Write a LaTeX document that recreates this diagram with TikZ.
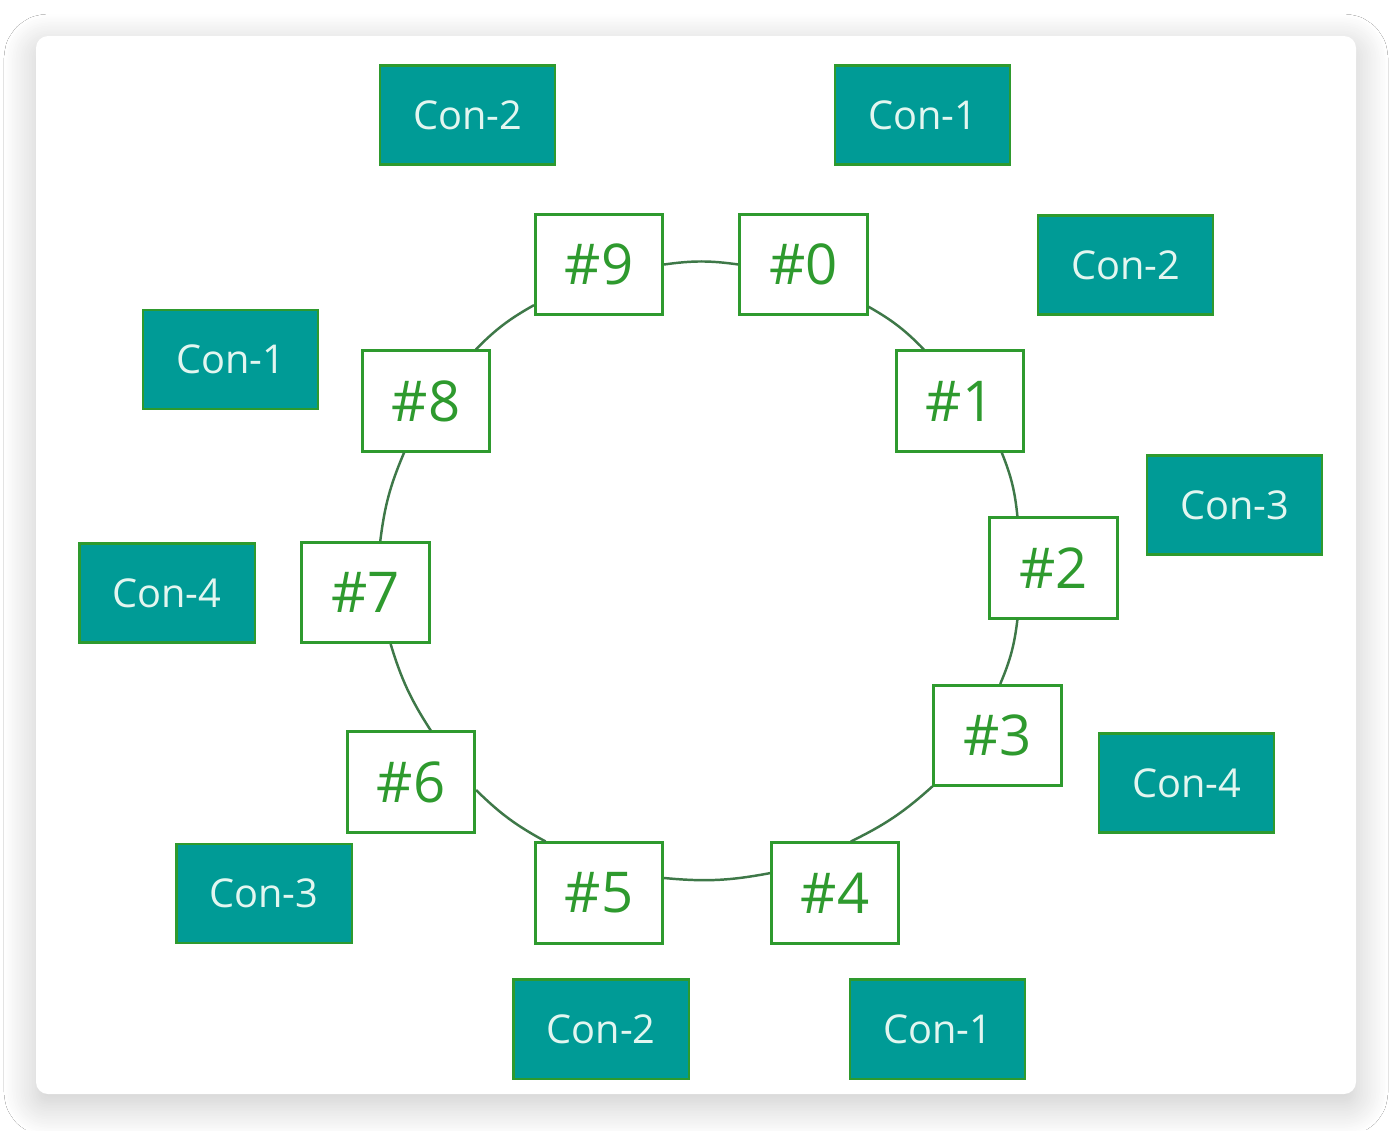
\documentclass[tikz,border=0pt]{standalone}
\usepackage{fontspec}
\setmainfont{Open Sans}
\usepackage{tikz}
\usetikzlibrary{positioning, shadows.blur}

\definecolor{ringgreen}{RGB}{46,154,46}
\definecolor{linegreen}{RGB}{62,120,72}
\definecolor{conteal}{RGB}{0,155,150}
\definecolor{context}{RGB}{226,246,240}

\tikzset{
    ringbox/.style={draw=ringgreen, line width=0.85pt, fill=white, text=ringgreen,
        minimum width=1.27cm, minimum height=1cm, inner sep=0pt,
        font=\fontsize{16}{16}\selectfont},
    conbox/.style={draw=ringgreen, line width=0.6pt, fill=conteal, text=context,
        minimum width=1.75cm, minimum height=0.99cm, inner sep=0pt,
        font=\fontsize{11.3}{12}\selectfont},
    ringline/.style={draw=linegreen, line width=0.7pt}
}

\begin{document}
\begin{tikzpicture}[x=0.01cm, y=-0.01cm]
    \useasboundingbox (0,0) rectangle (1392,1130);
    \fill[white] (0,0) rectangle (1392,1130);

    % card
    \path[fill=white, rounded corners=0.12cm,
        blur shadow={shadow xshift=0pt, shadow yshift=-0.1cm,
            shadow blur radius=0.32cm, shadow blur steps=20,
            shadow opacity=22}]
        (36,36) rectangle (1356,1094);

    % ring
    \foreach \i/\x/\y in {
        0/803.5/264.5,
        1/960/401,
        2/1053.5/568,
        3/997.5/735.5,
        4/835/893,
        5/599/893,
        6/411/782,
        7/365.5/592.5,
        8/426/401,
        9/599/264.5}
    {
        \node[ringbox] (n\i) at (\x,\y) {\#\i};
    }

    % ring links
    \foreach \a/\b/\sa/\sb in {
        9/0/0/180,
        0/1/-33/125,
        1/2/-51/125,
        2/3/-125/87,
        3/4/-142/73,
        4/5/163/13,
        5/6/136/-7,
        6/7/69/-64,
        7/8/74/-113,
        8/9/46/-148}
    {
        \draw[ringline] (n\a.\sa) to[bend left=8] (n\b.\sb);
    }

    % connections
    \foreach \name/\x/\y/\txt in {
        conA/467.5/115/Con-2,
        conB/922.5/115/Con-1,
        conC/1125.5/265/Con-2,
        conD/230.5/359.5/Con-1,
        conE/1234.5/505/Con-3,
        conF/167/593/Con-4,
        conG/1186.5/783/Con-4,
        conH/264/893.5/Con-3,
        conI/601/1029/Con-2,
        conJ/937.5/1029/Con-1}
    {
        \node[conbox] (\name) at (\x,\y) {\txt};
    }
\end{tikzpicture}
\end{document}
